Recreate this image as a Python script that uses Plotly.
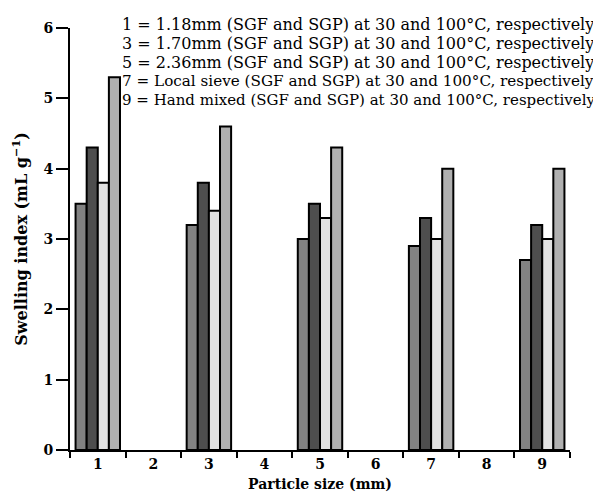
import plotly.graph_objects as go

categories = ["1", "2", "3", "4", "5", "6", "7", "8", "9"]
sgf_30 = [3.5, None, 3.2, None, 3.0, None, 2.9, None, 2.7]
sgf_100 = [4.3, None, 3.8, None, 3.5, None, 3.3, None, 3.2]
sgp_30 = [3.8, None, 3.4, None, 3.3, None, 3.0, None, 3.0]
sgp_100 = [5.3, None, 4.6, None, 4.3, None, 4.0, None, 4.0]

series_names = ["SGF 30°C", "SGF 100°C", "SGP 30°C", "SGP 100°C"]
series_values = [sgf_30, sgf_100, sgp_30, sgp_100]
series_colors = ["#828282", "#4e4e4e", "#e2e2e2", "#b0b0b0"]

legend_lines = [
    "1 = 1.18mm (SGF and SGP) at 30 and 100°C, respectively",
    "3 = 1.70mm (SGF and SGP) at 30 and 100°C, respectively",
    "5 = 2.36mm (SGF and SGP) at 30 and 100°C, respectively",
    "7 = Local sieve (SGF and SGP) at 30 and 100°C, respectively",
    "9 = Hand mixed (SGF and SGP) at 30 and 100°C, respectively",
]
legend_sizes = [16, 16, 16, 15.2, 15]

fig = go.Figure()
for name, vals, col in zip(series_names, series_values, series_colors):
    fig.add_trace(go.Bar(
        x=categories, y=vals, name=name,
        marker=dict(color=col, line=dict(color="black", width=2)),
    ))

serif = "DejaVu Serif, Liberation Serif, serif"

L, R, T, B = 62, 39, 16, 54
PW, PH = 601 - L - R, 496 - T - B

fig.update_layout(
    width=601, height=496,
    margin=dict(l=L, r=R, t=T, b=B),
    paper_bgcolor="white", plot_bgcolor="white",
    barmode="group", bargap=0.2, bargroupgap=0,
    showlegend=False,
    font=dict(family=serif, color="black"),
    xaxis=dict(
        type="category", categoryorder="array", categoryarray=categories,
        range=[-0.5, 8.5], tickson="boundaries",
        showline=True, linecolor="black", linewidth=2,
        ticks="outside", ticklen=6, tickwidth=2, tickcolor="black",
        tickfont=dict(family=serif, size=14, color="black", weight="bold"),
        title=dict(text="<b>Particle size (mm)</b>", font=dict(family=serif, size=14), standoff=8),
        showgrid=False, zeroline=False,
    ),
    yaxis=dict(
        range=[0, 6], dtick=1,
        showline=True, linecolor="black", linewidth=2,
        ticks="outside", ticklen=12, tickwidth=2, tickcolor="black",
        tickfont=dict(family=serif, size=14, color="black", weight="bold"),
        title=dict(text="<b>Swelling index (mL g<sup>−1</sup>)</b>", font=dict(family=serif, size=16), standoff=12),
        showgrid=False, zeroline=False,
    ),
)

legend_centers = [12.7, 31.7, 50.7, 69.3, 88.3]
for line, yc, fs in zip(legend_lines, legend_centers, legend_sizes):
    fig.add_annotation(
        text=line, xref="paper", yref="paper",
        x=(112 - L) / PW, y=1 - (yc - T) / PH,
        xanchor="left", yanchor="middle", showarrow=False,
        font=dict(family=serif, size=fs, color="black"),
    )

fig.write_html("out.html")
